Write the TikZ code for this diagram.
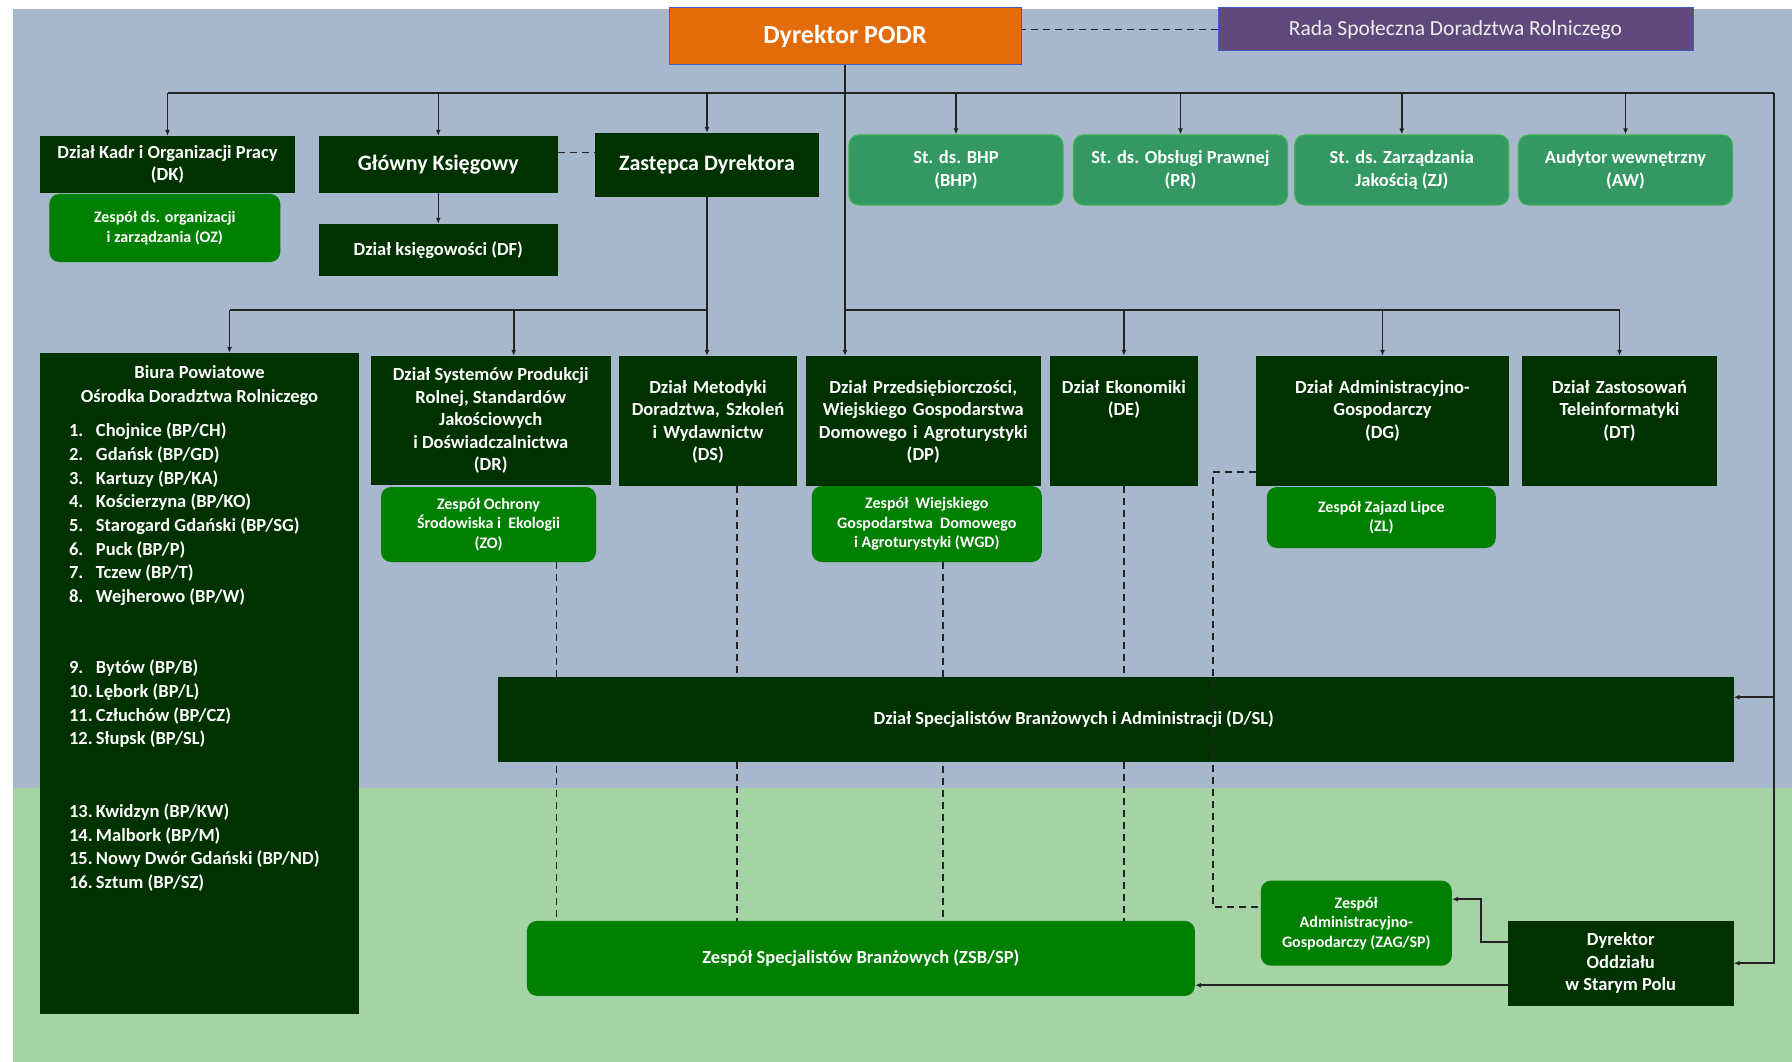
\documentclass[tikz,border=0pt]{standalone}
\usepackage{fontspec}
\setmainfont{Carlito}
\usetikzlibrary{arrows.meta}

\definecolor{bgblue}{RGB}{168,184,204}
\definecolor{bggreen}{RGB}{166,211,165}
\definecolor{dgreen}{RGB}{0,50,0}
\definecolor{tgreen}{RGB}{0,128,0}
\definecolor{pgreen}{RGB}{52,152,98}
\definecolor{pborder}{RGB}{64,176,84}
\definecolor{orangebox}{RGB}{227,108,10}
\definecolor{purplebox}{RGB}{95,73,122}
\definecolor{bluebord}{RGB}{70,90,200}
\definecolor{linec}{RGB}{35,35,35}

\newcommand{\bpnum}[1]{\makebox[27pt][l]{#1}}

\tikzset{
  norm/.style={font=\bfseries\fontsize{18.5}{22.5}\selectfont},
  big/.style={font=\bfseries\fontsize{22}{26}\selectfont},
  box/.style={align=center, text=white, inner sep=2pt, norm},
  dept/.style={box, fill=dgreen},
  depttop/.style={dept, text width=#1, inner xsep=4pt, inner ysep=0pt, text height=37pt, text depth=93pt},
  team/.style={box, fill=tgreen, rounded corners=10pt, font=\bfseries\fontsize{16}{19.5}\selectfont},
  post/.style={box, fill=pgreen, draw=pborder, line width=1.2pt, rounded corners=10pt, minimum width=214pt, minimum height=70pt},
  conn/.style={draw=linec, line width=1.5pt},
  dashline/.style={conn, dash pattern=on 7pt off 5pt},
  >={Latex[length=6pt,width=5pt]}
}

\begin{document}
\begin{tikzpicture}[x=1pt, y=-1pt]
\useasboundingbox (0,0) rectangle (1792,1062);
\fill[bgblue] (13,9) rectangle (1792,788);
\fill[bggreen] (13,788) rectangle (1792,1062);

\node[box, fill=orangebox, draw=bluebord, line width=1pt, minimum width=352pt, minimum height=57pt, font=\bfseries\fontsize{26}{30}\selectfont] (Dyr) at (845,36.5) {Dyrektor PODR};
\node[box, fill=purplebox, draw=bluebord, line width=1pt, minimum width=475pt, minimum height=43pt, font=\fontsize{21.5}{26}\selectfont, text=white!90!purplebox] (Rada) at (1455.5,29.5) {Rada Społeczna Doradztwa Rolniczego};

\node[dept, minimum width=255pt, minimum height=57pt] (DK) at (167.5,164.5) {Dział Kadr i Organizacji Pracy\\(DK)};
\node[team, minimum width=231pt, minimum height=68pt] (OZ) at (164.8,228) {Zespół ds. organizacji\\i zarządzania (OZ)};
\node[dept, big, minimum width=239pt, minimum height=57pt] (GK) at (438.3,164.5) {Główny Księgowy};
\node[dept, minimum width=239pt, minimum height=52pt] (DF) at (438.3,250) {Dział księgowości (DF)};
\node[dept, big, minimum width=224pt, minimum height=64pt] (Zast) at (707,165) {Zastępca Dyrektora};
\node[post] (BHP) at (956,170) {St. ds. BHP\\(BHP)};
\node[post] (PR) at (1180.5,170) {St. ds. Obsługi Prawnej\\(PR)};
\node[post] (ZJ) at (1401.8,170) {St. ds. Zarządzania\\Jakością (ZJ)};
\node[post] (AW) at (1625.5,170) {Audytor wewnętrzny\\(AW)};

\node[dept, minimum width=319pt, minimum height=661pt] (BP) at (199.5,683.5) {};
\node[box, inner sep=0pt, font=\bfseries\fontsize{18.5}{24}\selectfont, anchor=north] (BPhead) at ([yshift=-13pt]BP.north) {Biura Powiatowe\\Ośrodka Doradztwa Rolniczego};
\node[box, align=left, inner sep=0pt, font=\bfseries\fontsize{18.5}{23.7}\selectfont, anchor=north west] (BPlist) at ([xshift=29pt,yshift=-70pt]BP.north west) {%
\bpnum{1.}Chojnice (BP/CH)\\
\bpnum{2.}Gdańsk (BP/GD)\\
\bpnum{3.}Kartuzy (BP/KA)\\
\bpnum{4.}Kościerzyna (BP/KO)\\
\bpnum{5.}Starogard Gdański (BP/SG)\\
\bpnum{6.}Puck (BP/P)\\
\bpnum{7.}Tczew (BP/T)\\
\bpnum{8.}Wejherowo (BP/W)\\[47.4pt]
\bpnum{9.}Bytów (BP/B)\\
\bpnum{10.}Lębork (BP/L)\\
\bpnum{11.}Człuchów (BP/CZ)\\
\bpnum{12.}Słupsk (BP/SL)\\[49pt]
\bpnum{13.}Kwidzyn (BP/KW)\\
\bpnum{14.}Malbork (BP/M)\\
\bpnum{15.}Nowy Dwór Gdański (BP/ND)\\
\bpnum{16.}Sztum (BP/SZ)};

\node[dept, minimum width=240.5pt, minimum height=129pt] (DR) at (490.75,420.5) {Dział Systemów Produkcji\\Rolnej, Standardów\\Jakościowych\\i Doświadczalnictwa\\(DR)};
\node[team, minimum width=215pt, minimum height=75pt] (ZO) at (488.5,524.5) {Zespół Ochrony\\Środowiska i\ \ Ekologii\\(ZO)};
\node[depttop=170pt] (DS) at (708,421) {Dział Metodyki\\Doradztwa, Szkoleń\\i Wydawnictw\\(DS)};
\node[depttop=227.5pt] (DP) at (923.25,421) {Dział Przedsiębiorczości,\\Wiejskiego Gospodarstwa\\Domowego i Agroturystyki\\(DP)};
\node[team, minimum width=230pt, minimum height=76pt] (WGD) at (926.8,524) {Zespół\ \ Wiejskiego\\Gospodarstwa\ \ Domowego\\i Agroturystyki (WGD)};
\node[depttop=140pt] (DE) at (1123.9,421) {Dział Ekonomiki\\(DE)};
\node[depttop=245pt] (DG) at (1382.5,421) {Dział Administracyjno-\\Gospodarczy\\(DG)};
\node[team, minimum width=229pt, minimum height=61pt] (ZL) at (1381.3,517.5) {Zespół Zajazd Lipce\\(ZL)};
\node[depttop=187pt] (DT) at (1619.5,421) {Dział Zastosowań\\Teleinformatyki\\(DT)};

\node[team, norm, minimum width=668pt, minimum height=75pt] (ZSB) at (860.9,958.4) {Zespół Specjalistów Branżowych (ZSB/SP)};
\node[team, minimum width=191pt, minimum height=85pt] (ZAG) at (1356.3,923.2) {Zespół\\Administracyjno-\\Gospodarczy (ZAG/SP)};
\node[dept, minimum width=225.5pt, minimum height=85pt] (DO) at (1620.75,963.2) {Dyrektor\\Oddziału\\w Starym Polu};

\draw[dashline] ([xshift=68pt]ZO.south) -- ([xshift=68pt]ZO.south |- ZSB.north);
\draw[dashline] ([xshift=29pt]DS.south) -- ([xshift=29pt]DS.south |- ZSB.north);
\draw[dashline] ([xshift=16pt]WGD.south) -- ([xshift=16pt]WGD.south |- ZSB.north);
\draw[dashline] (DE.south) -- (DE.south |- ZSB.north);

\node[dept, minimum width=1235.5pt, minimum height=85pt] (DSL) at (1115.75,719.2) {Dział Specjalistów Branżowych i Administracji (D/SL)\hspace*{84pt}};

\coordinate (bus1) at (0,93);
\coordinate (bus1r) at (1774,93);
\coordinate (bus2) at (0,310);
\draw[dashline] (Rada.west) -- (Rada.west -| Dyr.east);
\draw[dashline] ([yshift=12pt]GK.east) -- ([yshift=12pt]GK.east -| Zast.west);
\draw[conn,->] (Dyr.south) -- (Dyr.south |- DP.north);
\draw[conn] (DK.north |- bus1) -- (bus1r);
\foreach \n in {DK,GK,Zast,BHP,PR,ZJ,AW}
  \draw[conn,->] (\n.north |- bus1) -- (\n.north);
\draw[conn,->] (GK.south) -- (DF.north);
\draw[conn,->] (bus1r) |- (DO.east);
\draw[conn,->] ([yshift=22pt]DSL.east -| bus1r) -- ([yshift=22pt]DSL.east);
\draw[conn,->] (Zast.south) -- (Zast.south |- DS.north);
\draw[conn] (Zast.south |- bus2) -- ([xshift=30pt]BP.north |- bus2);
\draw[conn,->] ([xshift=30pt]BP.north |- bus2) -- ([xshift=30pt]BP.north);
\draw[conn,->] ([xshift=23pt]DR.north |- bus2) -- ([xshift=23pt]DR.north);
\draw[conn] (Dyr.south |- bus2) -- (DT.north |- bus2);
\foreach \n in {DE,DG,DT}
  \draw[conn,->] (\n.north |- bus2) -- (\n.north);
\draw[dashline] ([yshift=14pt]DG.south west) -- ++(-43pt,0) |- ([yshift=16pt]ZAG.west);
\draw[conn,->] ([yshift=21pt]DO.west) -- ++(-27pt,0) |- ([yshift=24pt]ZAG.east);
\draw[conn,->] ([yshift=-22pt]DO.west) -- ([yshift=-22pt]DO.west -| ZSB.east);
\end{tikzpicture}
\end{document}
